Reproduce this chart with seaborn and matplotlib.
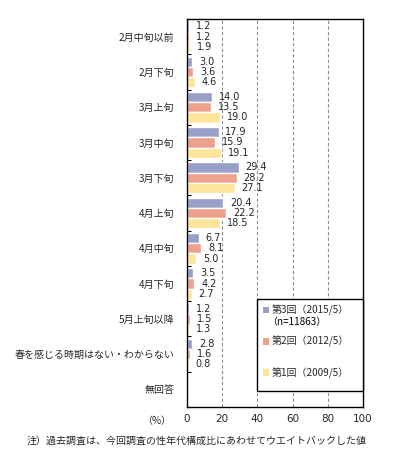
import matplotlib
matplotlib.use("Agg")
import matplotlib.pyplot as plt
from matplotlib.patches import Patch, Rectangle
import seaborn as sns
import pandas as pd
import numpy as np

categories = ["2月中旬以前", "2月下旬", "3月上旬", "3月中旬", "3月下旬", "4月上旬",
              "4月中旬", "4月下旬", "5月上旬以降", "春を感じる時期はない・わからない", "無回答"]
series = ["第3回（2015/5）", "第2回（2012/5）", "第1回（2009/5）"]
round3 = [1.2, 3.0, 14.0, 17.9, 29.4, 20.4, 6.7, 3.5, 1.2, 2.8, np.nan]
round2 = [1.2, 3.6, 13.5, 15.9, 28.2, 22.2, 8.1, 4.2, 1.5, 1.6, np.nan]
round1 = [1.9, 4.6, 19.0, 19.1, 27.1, 18.5, 5.0, 2.7, 1.3, 0.8, np.nan]
colors = ["#989FC8", "#EDA08C", "#FFE599"]
xticks = [0, 20, 40, 60, 80, 100]

sns.set_style("white")
plt.rcParams["font.family"] = ["Noto Sans CJK JP", "DejaVu Sans"]

df = pd.DataFrame({
    "cat": categories * 3,
    "series": [s for s in series for _ in categories],
    "value": [v if not np.isnan(v) else 0.0 for v in round3 + round2 + round1],
})

fig = plt.figure(figsize=(3.94, 4.69), dpi=100)
ax = fig.add_axes([187 / 394, 1 - 407 / 469, 176 / 394, 388 / 469])

sns.barplot(data=df, x="value", y="cat", hue="series", order=categories,
            hue_order=series, palette=colors, orient="h", width=0.87,
            saturation=1, legend=False, ax=ax)

# value labels
for cont, vals in zip(ax.containers, [round3, round2, round1]):
    labels = ["" if np.isnan(v) else f"{v:.1f}" for v in vals]
    ax.bar_label(cont, labels=labels, padding=5, fontsize=7, family="DejaVu Sans")

ax.set_xlim(0, 100)
ax.set_xticks(xticks)
ax.set_xticklabels([str(t) for t in xticks], fontsize=7.5, family="DejaVu Sans")
ax.set_xlabel("")
ax.set_ylabel("")
ax.tick_params(axis="x", length=0, pad=5)
ax.tick_params(axis="y", which="major", length=0, pad=9, labelsize=7.2)
ax.set_yticks(np.arange(-0.5, len(categories), 1), minor=True)
ax.tick_params(axis="y", which="minor", direction="in", length=3, width=0.8, left=True, color="black")
for x in xticks[1:-1]:
    ax.axvline(x, color="#909090", lw=0.8, ls=(0, (3, 2)), zorder=0)
for sp in ax.spines.values():
    sp.set_visible(True)
    sp.set_color("black")
    sp.set_linewidth(1)

# legend box
ax.add_patch(Rectangle((0.398, 0.041), 0.602, 0.237, transform=ax.transAxes,
                       facecolor="white", edgecolor="black", lw=1, zorder=4, clip_on=False))
handles = [Patch(facecolor=c, edgecolor="none") for c in colors]
leg = ax.legend(handles, series, loc="upper left", bbox_to_anchor=(0.398, 0.278),
                fontsize=7.2, frameon=False,
                handlelength=0.6, handleheight=0.6, handletextpad=0.3,
                labelspacing=2.0, borderpad=0.6, borderaxespad=0)
leg.set_zorder(5)
ax.text(0.455, 0.218, "（n=11863）", transform=ax.transAxes, fontsize=7.2, va="center",
        color="black", zorder=6)

fig.text(157 / 394, 1 - 421 / 469, "（%）", fontsize=7.2, ha="center", va="center")
fig.text(27 / 394, 1 - 441 / 469, "注）過去調査は、今回調査の性年代構成比にあわせてウエイトバックした値",
         fontsize=7.2, ha="left", va="center")

fig.savefig("out.png", dpi=100)
